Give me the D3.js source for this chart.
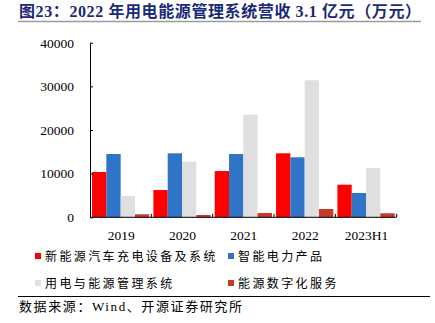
<!DOCTYPE html>
<html>
<head>
<meta charset="utf-8">
<script src="https://cdn.jsdelivr.net/npm/d3@7/dist/d3.min.js"></script>
<style>
  html, body { margin: 0; padding: 0; background: #fff; }
  svg { display: block; }
</style>
</head>
<body>
<script>
// Revenue by business line, unit: 万元
const categories = ["2019", "2020", "2021", "2022", "2023H1"];
const seriesNames = ["新能源汽车充电设备及系统", "智能电力产品", "用电与能源管理系统", "能源数字化服务"];
const charging = [10380, 6250, 10600, 14660, 7470];
const smartPower = [14500, 14660, 14500, 13750, 5570];
const energyMgmt = [4880, 12740, 23500, 31400, 11300];
const digital = [690, 530, 990, 1900, 920];
const yTicks = [0, 10000, 20000, 30000, 40000];
const colors = ["#FF0000", "#2F74C7", "#DFDFDF", "#C9392B"];

const seriesValues = [charging, smartPower, energyMgmt, digital];

const W = 435, H = 323;
const svg = d3.select("body").append("svg").attr("width", W).attr("height", H);

const serif = "'Liberation Serif', 'Times New Roman', 'Noto Sans CJK SC', serif";
const cjk = "'Liberation Serif', 'Noto Sans CJK SC', sans-serif";

// Title and rule beneath it
svg.append("text")
  .attr("x", 19).attr("y", 17)
  .attr("font-family", cjk).attr("font-weight", "bold")
  .attr("font-size", 16).attr("letter-spacing", 0.6).attr("fill", "#1B2A78")
  .text("图23：2022 年用电能源管理系统营收 3.1 亿元（万元）");
svg.append("line")
  .attr("x1", 18).attr("x2", 421).attr("y1", 21.5).attr("y2", 21.5)
  .attr("stroke", "#9a9a9a").attr("stroke-width", 1.5);

// Scales
const x0 = d3.scaleBand().domain(categories).range([90, 396.7]).paddingInner(0).paddingOuter(0);
const x1 = d3.scaleBand().domain(d3.range(seriesNames.length))
  .range([0, x0.bandwidth()]).paddingInner(0).paddingOuter(0.1425);
const y = d3.scaleLinear().domain([0, 40000]).range([217.3, 42.7]);

// Bars
const g = svg.append("g");
seriesValues.forEach((vals, si) => {
  g.selectAll(null).data(categories).enter().append("rect")
    .attr("x", c => x0(c) + x1(si))
    .attr("width", x1.bandwidth())
    .attr("y", (c, i) => y(vals[i]))
    .attr("height", (c, i) => y(0) - y(vals[i]))
    .attr("fill", colors[si]);
});

// Y axis with inward ticks
const yAxis = svg.append("g").attr("transform", "translate(90,0)")
  .call(d3.axisLeft(y).tickValues(yTicks).tickSizeInner(-3).tickSizeOuter(0).tickPadding(16).tickFormat(d3.format("d")));
yAxis.select(".domain").attr("stroke", "#000");
yAxis.selectAll(".tick line").attr("stroke", "#000");
yAxis.selectAll("text").attr("font-family", serif).attr("font-size", 13.5).attr("fill", "#000");

// X axis: baseline with upward ticks at category boundaries
svg.append("line").attr("x1", 90).attr("x2", 396.7).attr("y1", y(0)).attr("y2", y(0))
  .attr("stroke", "#000").attr("stroke-width", 1);
categories.forEach(c => {
  const bx = x0(c) + x0.bandwidth();
  svg.append("line").attr("x1", bx).attr("x2", bx).attr("y1", y(0)).attr("y2", y(0) - 3.5)
    .attr("stroke", "#000");
});
svg.selectAll(null).data(categories).enter().append("text")
  .attr("x", c => x0(c) + x0.bandwidth() / 2 + 0.5)
  .attr("y", 240)
  .attr("text-anchor", "middle")
  .attr("font-family", serif).attr("font-size", 13.5).attr("fill", "#000")
  .text(d => d);

// Legend (two rows, two columns)
const legendPos = [[35, 256], [228, 256], [35, 283], [228, 283]];
seriesNames.forEach((name, i) => {
  const [lx, ly] = legendPos[i];
  svg.append("rect").attr("x", lx).attr("y", ly - 3).attr("width", 6).attr("height", 6).attr("fill", colors[i]);
  svg.append("text").attr("x", lx + 10).attr("y", ly + 4.5)
    .attr("font-family", cjk).attr("font-size", 12).attr("letter-spacing", 2.4)
    .attr("fill", "#000").text(name);
});

// Source line
svg.append("line").attr("x1", 18).attr("x2", 430).attr("y1", 296.5).attr("y2", 296.5)
  .attr("stroke", "#000").attr("stroke-width", 1);
svg.append("text").attr("x", 19).attr("y", 311)
  .attr("font-family", cjk).attr("font-size", 13).attr("letter-spacing", 1.6).attr("fill", "#000")
  .text("数据来源：Wind、开源证券研究所");
</script>
</body>
</html>
